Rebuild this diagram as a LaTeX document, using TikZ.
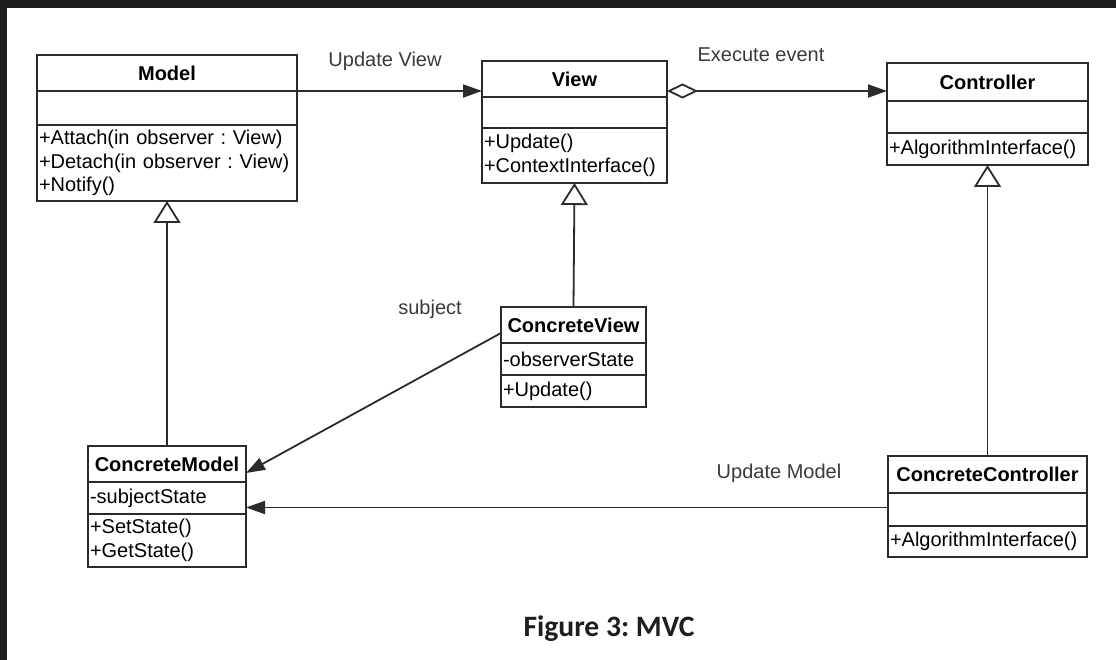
\documentclass[tikz,border=0pt]{standalone}
\usepackage{fontspec}
\setmainfont{Liberation Sans}
\newfontfamily\capfont{Carlito}
\usetikzlibrary{arrows.meta,positioning}
\definecolor{boxline}{HTML}{2B2B2B}
\definecolor{labelgray}{HTML}{3A3A3A}
\definecolor{framegray}{HTML}{1E1E1E}
\frenchspacing

\begin{document}
\begin{tikzpicture}[x=1pt,y=-1pt,
  cbox/.style={draw=boxline,line width=1.8pt,inner xsep=2pt,inner ysep=0pt,outer sep=0pt,anchor=north west,
    text=black,font=\fontsize{20}{23.5}\selectfont},
  cname/.style={cbox,font=\fontsize{20}{23.5}\selectfont\bfseries},
  cpart/.style={cbox,align=left},
  lbl/.style={anchor=base,text=labelgray,font=\fontsize{20}{23.5}\selectfont},
  assoc/.style={line width=1.8pt,draw=boxline,-{Triangle[length=19pt,width=13pt]}},
  aggr/.style={line width=1.8pt,draw=boxline,{Diamond[open,length=31pt,width=15pt]}-{Triangle[length=19pt,width=13pt]}},
  gen/.style={line width=1.8pt,draw=boxline,-{Triangle[open,length=22pt,width=27pt]}}]
\useasboundingbox (0,0) rectangle (1116,660);
\fill[white] (0,0) rectangle (1116,660);
\fill[framegray] (0,0) rectangle (1116,8);
\fill[framegray] (0,0) rectangle (7,660);

\node[cname,minimum width=260pt,minimum height=36pt] (model) at (37,55) {Model};
\node[cpart,minimum width=260pt,minimum height=34pt] (model-attr) at (model.south west) {};
\node[cpart,text width=256pt,minimum height=76pt] (model-ops) at (model-attr.south west)
  {+Attach(in observer : View)\\+Detach(in observer : View)\\+Notify()};

\node[cname,minimum width=185pt,minimum height=36pt] (view) at (482,61) {View};
\node[cpart,minimum width=185pt,minimum height=31pt] (view-attr) at (view.south west) {};
\node[cpart,text width=181pt,minimum height=55pt] (view-ops) at (view-attr.south west)
  {+Update()\\+ContextInterface()};

\node[cname,minimum width=201pt,minimum height=38pt] (controller) at (887,63) {Controller};
\node[cpart,minimum width=201pt,minimum height=32pt] (controller-attr) at (controller.south west) {};
\node[cpart,text width=197pt,minimum height=32pt] (controller-ops) at (controller-attr.south west)
  {+AlgorithmInterface()};

\node[cname,minimum width=158pt,minimum height=36pt] (cmodel) at (88,446) {ConcreteModel};
\node[cpart,text width=154pt,minimum height=32pt] (cmodel-attr) at (cmodel.south west) {-subjectState};
\node[cpart,text width=154pt,minimum height=53pt] (cmodel-ops) at (cmodel-attr.south west)
  {+SetState()\\+GetState()};

\node[cname,minimum width=145pt,minimum height=36pt] (cview) at (501,307) {ConcreteView};
\node[cpart,text width=141pt,minimum height=32pt] (cview-attr) at (cview.south west) {-observerState};
\node[cpart,text width=141pt,minimum height=32pt] (cview-ops) at (cview-attr.south west) {+Update()};

\node[cname,minimum width=199pt,minimum height=37pt] (ccontroller) at (888,456) {ConcreteController};
\node[cpart,minimum width=199pt,minimum height=33pt] (ccontroller-attr) at (ccontroller.south west) {};
\node[cpart,text width=195pt,minimum height=31pt] (ccontroller-ops) at (ccontroller-attr.south west)
  {+AlgorithmInterface()};

\node[lbl] (updateview) at (385,67) {Update View};
\node[lbl] (executeevent) at (761,62) {Execute event};
\node[lbl] (subject) at (430,314) {subject};
\node[lbl] (updatemodel) at (779,478) {Update Model};
\node[anchor=base,font=\capfont\bfseries\fontsize{29.6}{34}\selectfont,text=framegray] (caption) at (609,636) {Figure 3: MVC};

\draw[assoc] (model.south east) -- (model.south east -| view.west);
\draw[aggr] ([yshift=6pt]view.south east) -- ([yshift=6pt]view.south east -| controller.west);
\draw[assoc] ([yshift=-8pt]cview.west) -- ([yshift=9pt]cmodel.south east);
\draw[assoc] ([yshift=2pt]ccontroller-attr.west) -- ([yshift=2pt]ccontroller-attr.west -| cmodel-attr.east);

\draw[gen] (cmodel.north) -- (model-ops.south);
\draw[gen] (cview.north) -- (view-ops.south);
\draw[gen] (ccontroller.north) -- (controller-ops.south);
\end{tikzpicture}
\end{document}
